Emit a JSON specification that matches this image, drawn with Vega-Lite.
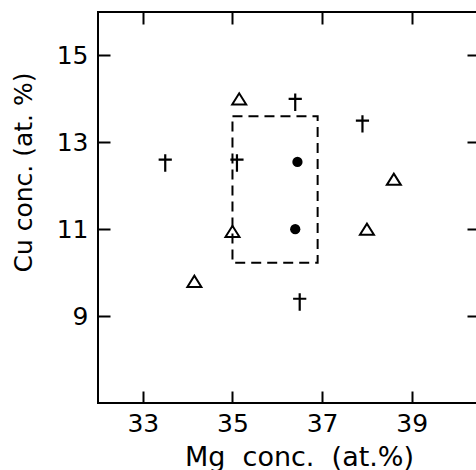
{
  "$schema": "https://vega.github.io/schema/vega-lite/v6.json",
  "autosize": {"type": "none"},
  "padding": {"left": 98, "top": 12, "right": 0, "bottom": 67},
  "width": 381,
  "height": 391,
  "background": "white",
  "config": {
    "view": {"stroke": "black", "strokeWidth": 2},
    "font": "DejaVu Sans",
    "axis": {
      "domain": false,
      "grid": false,
      "tickColor": "black",
      "tickWidth": 2,
      "tickSize": -12,
      "labelFont": "DejaVu Sans",
      "labelFontSize": 25,
      "labelColor": "black",
      "titleFont": "DejaVu Sans",
      "titleFontSize": 25,
      "titleFontWeight": "normal",
      "titleColor": "black"
    }
  },
  "datasets": {
    "box": [{"mg1": 35.0, "mg2": 36.9, "cu1": 10.23, "cu2": 13.6}],
    "pts": [
      {"mg": 33.5, "cu": 12.6, "type": "dagger"},
      {"mg": 35.1, "cu": 12.6, "type": "dagger"},
      {"mg": 36.4, "cu": 14.0, "type": "dagger"},
      {"mg": 37.9, "cu": 13.5, "type": "dagger"},
      {"mg": 36.5, "cu": 9.4, "type": "dagger"},
      {"mg": 35.15, "cu": 14.0, "type": "triangle"},
      {"mg": 38.6, "cu": 12.15, "type": "triangle"},
      {"mg": 35.0, "cu": 10.95, "type": "triangle"},
      {"mg": 38.0, "cu": 11.0, "type": "triangle"},
      {"mg": 34.15, "cu": 9.8, "type": "triangle"},
      {"mg": 36.45, "cu": 12.55, "type": "circle"},
      {"mg": 36.4, "cu": 11.0, "type": "circle"}
    ]
  },
  "resolve": {"axis": {"x": "independent", "y": "independent"}},
  "layer": [
    {
      "data": {"name": "box"},
      "mark": {"type": "rect", "fillOpacity": 0, "stroke": "black", "strokeWidth": 2, "strokeDash": [10, 6]},
      "encoding": {
        "x": {"field": "mg1", "type": "quantitative", "scale": {"domain": [32, 40.5], "nice": false, "zero": false},
          "axis": {"orient": "bottom", "values": [33, 35, 37, 39], "labelPadding": 20, "title": "Mg\u00a0\u00a0conc.\u00a0\u00a0(at.%)",
            "titleFontSize": 27, "titleX": 201, "titleY": 54, "titleAlign": "center", "titleBaseline": "middle"}},
        "x2": {"field": "mg2"},
        "y": {"field": "cu1", "type": "quantitative", "scale": {"domain": [7, 16], "nice": false, "zero": false},
          "axis": {"orient": "left", "values": [9, 11, 13, 15], "labelPadding": 22, "title": "Cu conc. (at. %)",
            "titleX": -75, "titleY": 160, "titleAngle": -90, "titleAlign": "center", "titleBaseline": "middle"}},
        "y2": {"field": "cu2"}
      }
    },
    {
      "data": {"name": "pts"},
      "transform": [{"filter": "datum.type === 'dagger'"}],
      "mark": {"type": "point", "shape": "M0,-0.45L0,1M-0.55,0L0.55,0", "size": 576, "filled": false, "stroke": "black", "strokeWidth": 2.2, "opacity": 1},
      "encoding": {
        "x": {"field": "mg", "type": "quantitative", "scale": {"domain": [32, 40.5], "nice": false, "zero": false},
          "axis": {"orient": "top", "values": [33, 35, 37, 39], "labels": false, "title": null}},
        "y": {"field": "cu", "type": "quantitative", "scale": {"domain": [7, 16], "nice": false, "zero": false},
          "axis": {"orient": "right", "values": [9, 11, 13, 15], "labels": false, "title": null}}
      }
    },
    {
      "data": {"name": "pts"},
      "transform": [{"filter": "datum.type === 'triangle'"}],
      "mark": {"type": "point", "shape": "M-1,0.8L0,-0.8L1,0.8Z", "size": 196, "filled": false, "stroke": "black", "strokeWidth": 2, "opacity": 1},
      "encoding": {
        "x": {"field": "mg", "type": "quantitative", "scale": {"domain": [32, 40.5], "nice": false, "zero": false}, "axis": null},
        "y": {"field": "cu", "type": "quantitative", "scale": {"domain": [7, 16], "nice": false, "zero": false}, "axis": null}
      }
    },
    {
      "data": {"name": "pts"},
      "transform": [{"filter": "datum.type === 'circle'"}],
      "mark": {"type": "point", "shape": "circle", "size": 105, "filled": true, "fill": "black", "opacity": 1},
      "encoding": {
        "x": {"field": "mg", "type": "quantitative", "scale": {"domain": [32, 40.5], "nice": false, "zero": false}, "axis": null},
        "y": {"field": "cu", "type": "quantitative", "scale": {"domain": [7, 16], "nice": false, "zero": false}, "axis": null}
      }
    }
  ]
}
